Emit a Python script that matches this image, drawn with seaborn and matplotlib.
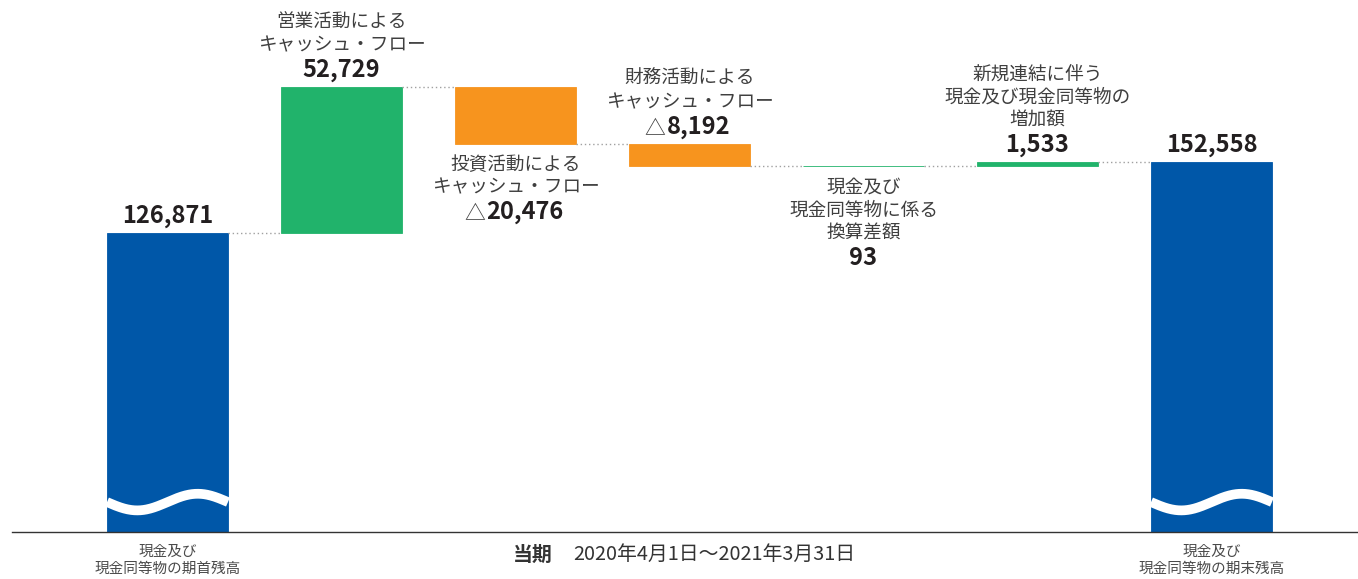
import matplotlib
matplotlib.use("Agg")
import matplotlib.pyplot as plt
import seaborn as sns
import pandas as pd
import numpy as np

# ----------------------------
# Data (百万円)
# ----------------------------
steps = ["期首残高", "営業CF", "投資CF", "財務CF", "換算差額", "新規連結", "期末残高"]
amounts = [126871, 52729, -20476, -8192, 93, 1533, 152558]
is_total = [True, False, False, False, False, False, True]
step_labels = [
    "",
    "営業活動による\nキャッシュ・フロー",
    "投資活動による\nキャッシュ・フロー",
    "財務活動による\nキャッシュ・フロー",
    "現金及び\n現金同等物に係る\n換算差額",
    "新規連結に伴う\n現金及び現金同等物の\n増加額",
    "",
]
value_labels = ["126,871", "52,729", "△20,476", "△8,192", "93", "1,533", "152,558"]
tick_labels = ["現金及び\n現金同等物の期首残高", "現金及び\n現金同等物の期末残高"]
period_head = "当期"
period_text = "2020年4月1日～2021年3月31日"

# layout: which bars get their labels underneath
label_below = {2, 4}

BLUE, GREEN, ORANGE = "#0057A8", "#21B36B", "#F7941E"
LABEL_C, VALUE_C = "#3f3f3f", "#231f20"

# running totals -> floating bars
bottoms, heights, ends, colors = [], [], [], []
running = 0
for amt, tot in zip(amounts, is_total):
    if tot:
        bottoms.append(0)
        heights.append(amt)
        running = amt
        colors.append(BLUE)
    else:
        new = running + amt
        bottoms.append(min(running, new))
        heights.append(abs(amt))
        running = new
        colors.append(GREEN if amt >= 0 else ORANGE)
    ends.append(running)

df = pd.DataFrame({"step": steps, "height": heights, "bottom": bottoms})

sns.set_theme(style="white")
plt.rcParams["font.family"] = ["Noto Sans CJK JP", "DejaVu Sans"]

W, H = 1358, 579
fig = plt.figure(figsize=(W / 100, H / 100), dpi=100)
ax = fig.add_axes([12 / W, 47 / H, 1346 / W, 532 / H])

bar_w = 0.695
sns.barplot(data=df, x="step", y="height", bottom=df["bottom"].to_numpy(),
            width=bar_w, color=BLUE, saturation=1, errorbar=None, ax=ax)
for p, c in zip(ax.patches, colors):
    p.set_facecolor(c)
    p.set_edgecolor(c)
    p.set_linewidth(0.6)

y0, y1 = 19000, 211000
ax.set_xlim((12 - 167.5) / 174, (1358 - 167.5) / 174)
ax.set_ylim(y0, y1)

# dotted connectors
for i in range(len(steps) - 1):
    ax.plot([i + bar_w / 2, i + 1 - bar_w / 2], [ends[i], ends[i]],
            color="#a0a0a0", lw=1, ls=(0, (1, 2)))

# wavy axis-break on the total bars
t = np.linspace(0, 1, 200)
for i, tot in enumerate(is_total):
    if tot:
        xs = i - bar_w / 2 + t * bar_w
        ys = y0 + 10800 - 3000 * np.sin(2 * np.pi * t)
        ax.plot(xs, ys, color="white", lw=7, solid_capstyle="butt")


def value_text(txt, xy, off):
    # the △ sign is drawn light, the number bold
    if txt.startswith("△"):
        ann = ax.annotate(txt[1:], xy, xytext=(9, off), textcoords="offset pixels",
                          ha="center", va="center", fontsize=17, fontweight="bold", color=VALUE_C)
        ax.annotate("△", xy, xytext=(9, off), textcoords="offset pixels",
                    ha="center", va="center", fontsize=17, color=LABEL_C, alpha=0)
        fig.canvas.draw()
        bb = ann.get_window_extent()
        ax.annotate("△", (bb.x0, (bb.y0 + bb.y1) / 2), xycoords="figure pixels",
                    xytext=(-1, -1), textcoords="offset pixels",
                    ha="right", va="center", fontsize=15, color=LABEL_C)
    else:
        ax.annotate(txt, xy, xytext=(0, off), textcoords="offset pixels",
                    ha="center", va="center", fontsize=17, fontweight="bold", color=VALUE_C)


# labels
for i in range(len(steps)):
    top = bottoms[i] + heights[i]
    bot = bottoms[i]
    n_lines = step_labels[i].count("\n") + 1 if step_labels[i] else 0
    if i in label_below:
        if step_labels[i]:
            ax.annotate(step_labels[i], (i, bot), xytext=(0, -12), textcoords="offset pixels",
                        ha="center", va="top", fontsize=13.4, color=LABEL_C, linespacing=1.35)
        off = 22 + (n_lines - 1) * 23 + 23.5
        value_text(value_labels[i], (i, bot), -off)
    else:
        voff = 17
        value_text(value_labels[i], (i, top), voff)
        if step_labels[i]:
            loff = voff + 24.5 + (n_lines - 1) * 23 / 2
            ax.annotate(step_labels[i], (i, top), xytext=(0, loff), textcoords="offset pixels",
                        ha="center", va="center", fontsize=13.4, color=LABEL_C, linespacing=1.35)

ax.set_xticks([0, len(steps) - 1])
ax.set_xticklabels(tick_labels, fontsize=10.5, color="#4a4a4a", linespacing=1.3)
ax.tick_params(axis="x", length=0, pad=9)
ax.set_yticks([])
ax.set_xlabel("")
ax.set_ylabel("")
for s in ["top", "left", "right"]:
    ax.spines[s].set_visible(False)
ax.spines["bottom"].set_color("#333333")
ax.spines["bottom"].set_linewidth(1.0)

fig.text(553 / W, 1 - 554 / H, period_head, ha="right", va="center",
         fontsize=14.3, fontweight="bold", color="#333333")
fig.text(573 / W, 1 - 554 / H, period_text, ha="left", va="center",
         fontsize=14.3, color="#333333")

fig.savefig("out.png", dpi=100)
